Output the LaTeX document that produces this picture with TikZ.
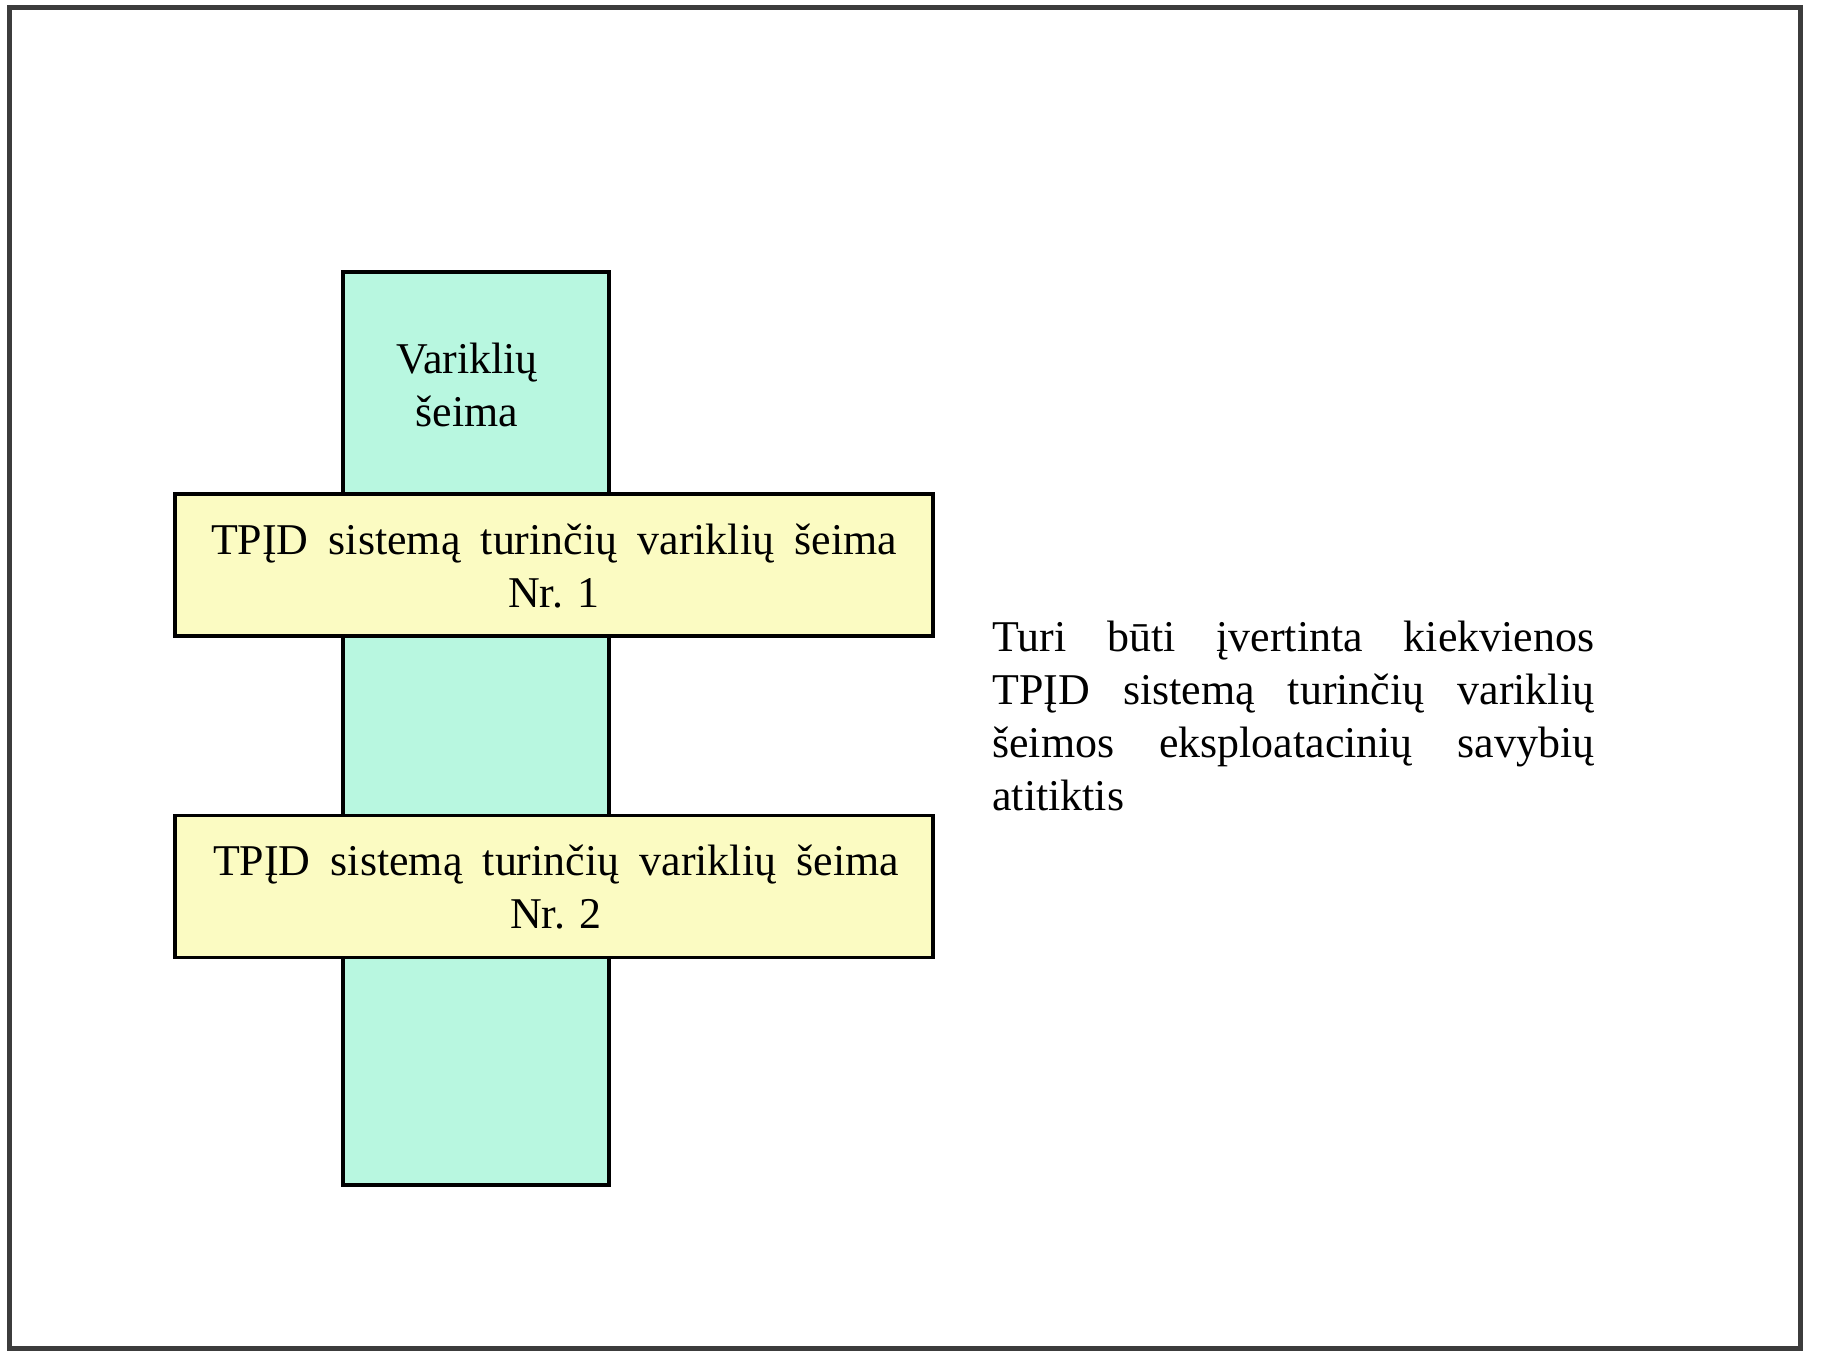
\documentclass[tikz,border=0pt]{standalone}
\usepackage{fontspec}
\setmainfont{Liberation Serif}
\definecolor{framegray}{HTML}{3C3C3C}
\definecolor{mint}{HTML}{B8F7E0}
\definecolor{paleyellow}{HTML}{FBFBC2}
\begin{document}
\begin{tikzpicture}[x=0.02cm,y=-0.02cm,
  frame/.style={draw=framegray,line width=2.8pt,fill=white},
  mintbox/.style={draw=black,line width=2pt,fill=mint,inner sep=0pt},
  yellowbox/.style={draw=black,line width=2pt,fill=paleyellow,inner sep=0pt,minimum width=15.16cm,minimum height=2.85cm},
  txt/.style={font=\fontsize{25}{30}\selectfont,inner sep=0pt}]
\useasboundingbox (0,0) rectangle (1830,1361);
\fill[white] (0,0) rectangle (1830,1361);
\node[frame,minimum width=35.84cm,minimum height=26.84cm] (outer) at (905,678) {};
\node[mintbox,minimum width=5.32cm,minimum height=18.26cm] (family) at (476,728.5) {};
\node[txt,align=center] (familytext) at (467,385) {Variklių\\šeima};
\node[yellowbox] (fam1) at (554,565) {};
\node[txt,align=center] (fam1text) at (554,566) {\makebox[13.72cm][s]{TPĮD sistemą turinčių variklių šeima}\\Nr. 1};
\node[yellowbox] (fam2) at (554,886.5) {};
\node[txt,align=center] (fam2text) at (556,887) {\makebox[13.72cm][s]{TPĮD sistemą turinčių variklių šeima}\\Nr. 2};
\node[txt,anchor=west,align=left] (note) at (992,716) {\makebox[12.04cm][s]{Turi būti įvertinta kiekvienos}\\\makebox[12.04cm][s]{TPĮD sistemą turinčių variklių}\\\makebox[12.04cm][s]{šeimos eksploatacinių savybių}\\atitiktis};
\end{tikzpicture}
\end{document}
